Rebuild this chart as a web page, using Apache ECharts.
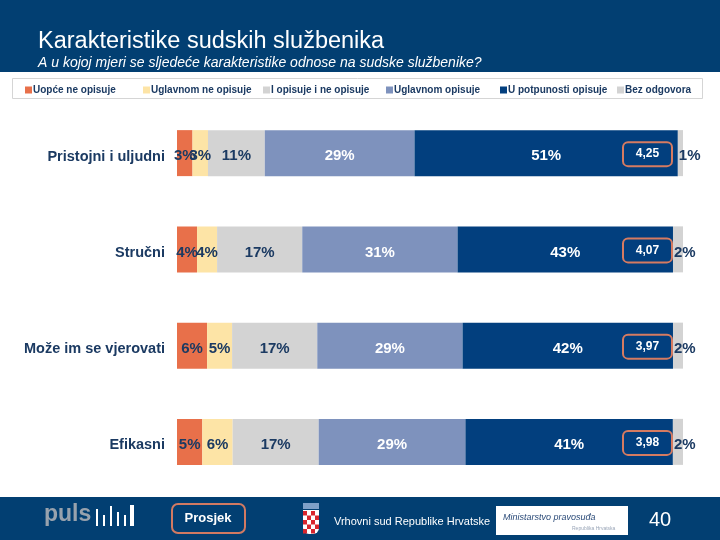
<!DOCTYPE html>
<html>
<head>
<meta charset="utf-8">
<script src="https://cdn.jsdelivr.net/npm/echarts@6/dist/echarts.min.js"></script>
<style>html,body{margin:0;padding:0;background:#fff}#c{width:720px;height:540px}</style>
</head>
<body>
<div id="c"></div>
<script>
var categories = ['Pristojni i uljudni', 'Stručni', 'Može im se vjerovati', 'Efikasni'];
var seriesNames = ['Uopće ne opisuje', 'Uglavnom ne opisuje', 'I opisuje i ne opisuje', 'Uglavnom opisuje', 'U potpunosti opisuje', 'Bez odgovora'];
var uopceNe = [3, 4, 6, 5];
var uglavnomNe = [3, 4, 5, 6];
var iOpisujeINe = [11, 17, 17, 17];
var uglavnomDa = [29, 31, 29, 29];
var uPotpunosti = [51, 43, 42, 41];
var bezOdgovora = [1, 2, 2, 2];
var averages = [4.25, 4.07, 3.97, 3.98];

var colors = ['#e8704a', '#fde4a6', '#d3d3d3', '#7e92bd', '#023f7e', '#d3d3d3'];
var HEADER = '#023f72';
var DARK = '#1b3a62';
var FONT = '"Liberation Sans", Arial, sans-serif';

var raw = [uopceNe, uglavnomNe, iOpisujeINe, uglavnomDa, uPotpunosti, bezOdgovora];
var totals = categories.map(function (c, i) {
  return raw.reduce(function (s, arr) { return s + arr[i]; }, 0);
});

var series = raw.map(function (arr, k) {
  var isLast = k === 5;
  var white = (k === 3 || k === 4);
  return {
    name: seriesNames[k],
    type: 'bar',
    stack: 'all',
    barWidth: 46,
    itemStyle: { color: colors[k] },
    data: arr.map(function (v, i) { return { value: v / totals[i] * 100, raw: v }; }),
    label: {
      show: true,
      position: isLast ? 'insideLeft' : 'inside',
      distance: 1,
      offset: [0, 3],
      fontFamily: FONT,
      fontWeight: 'bold',
      fontSize: 15,
      color: white ? '#ffffff' : DARK,
      formatter: function (p) { return p.data.raw + '%'; }
    },
    silent: true
  };
});

series.push({
  name: 'Prosjek',
  type: 'bar',
  barWidth: 46,
  barGap: '-100%',
  z: 10,
  silent: true,
  itemStyle: { color: 'rgba(0,0,0,0)' },
  data: averages.map(function (a) { return { value: 100, avg: a }; }),
  label: {
    show: true,
    position: 'insideRight',
    distance: 11,
    offset: [0, 1],
    formatter: function (p) { return '{b|' + p.data.avg.toFixed(2).replace('.', ',') + '}'; },
    rich: {
      b: {
        color: '#ffffff',
        fontFamily: FONT,
        fontWeight: 'bold',
        fontSize: 12,
        borderColor: '#d67b61',
        borderWidth: 2,
        borderRadius: 5,
        width: 49,
        height: 24,
        align: 'center',
        verticalAlign: 'middle',
        lineHeight: 24
      }
    }
  }
});

var chart = echarts.init(document.getElementById('c'), null, { renderer: 'canvas' });

var g = [
  { type: 'rect', shape: { x: 0, y: 0, width: 720, height: 72 }, style: { fill: HEADER }, z: -1 },
  { type: 'text', left: 38, top: 30, style: { text: 'Karakteristike sudskih službenika', fill: '#ffffff', font: '23.5px ' + FONT } },
  { type: 'text', left: 38, top: 56, style: { text: 'A u kojoj mjeri se sljedeće karakteristike odnose na sudske službenike?', fill: '#ffffff', font: 'italic 14px ' + FONT } },
  { type: 'rect', shape: { x: 12.5, y: 78.5, width: 690, height: 20 }, style: { fill: '#ffffff', stroke: '#d5d5d5', lineWidth: 1 }, z: -1 },
  { type: 'rect', shape: { x: 0, y: 497, width: 720, height: 43 }, style: { fill: HEADER } },
  { type: 'text', left: 44, top: 503, style: { text: 'puls', fill: '#98a2ad', font: 'bold 23px ' + FONT } },
  { type: 'rect', shape: { x: 96, y: 509, width: 2, height: 17 }, style: { fill: '#ffffff' } },
  { type: 'rect', shape: { x: 103, y: 515, width: 2, height: 11 }, style: { fill: '#ffffff' } },
  { type: 'rect', shape: { x: 110, y: 506, width: 2, height: 20 }, style: { fill: '#ffffff' } },
  { type: 'rect', shape: { x: 117, y: 512, width: 2, height: 14 }, style: { fill: '#ffffff' } },
  { type: 'rect', shape: { x: 124, y: 515, width: 2, height: 11 }, style: { fill: '#ffffff' } },
  { type: 'rect', shape: { x: 130, y: 505, width: 4, height: 21 }, style: { fill: '#ffffff' } },
  { type: 'rect', shape: { x: 172, y: 504, width: 73, height: 29, r: 6 }, style: { fill: HEADER, stroke: '#d27a62', lineWidth: 2 } },
  { type: 'text', x: 208, y: 518, style: { text: 'Prosjek', fill: '#ffffff', font: 'bold 13px ' + FONT, textAlign: 'center', textVerticalAlign: 'middle' } },
  { type: 'rect', shape: { x: 303, y: 510, width: 16, height: 24, r: [0, 0, 6, 6] }, style: { fill: '#ffffff' } },
  { type: 'rect', shape: { x: 303, y: 503, width: 16, height: 6 }, style: { fill: '#7fa0c8' } }
];
for (var r = 0; r < 5; r++) {
  for (var c = 0; c < 4; c++) {
    if ((r + c) % 2 === 0) {
      g.push({ type: 'rect', shape: { x: 303 + c * 4, y: 511 + r * 4.5, width: 4, height: 4.5 }, style: { fill: '#d8262e' } });
    }
  }
}
g = g.concat([
  { type: 'text', left: 334, top: 516, style: { text: 'Vrhovni sud Republike Hrvatske', fill: '#ffffff', font: '11px ' + FONT } },
  { type: 'rect', shape: { x: 496, y: 506, width: 132, height: 29 }, style: { fill: '#ffffff' } },
  { type: 'text', left: 503, top: 513, style: { text: 'Ministarstvo pravosuđa', fill: '#2a4a78', font: 'italic 9px ' + FONT } },
  { type: 'text', left: 572, top: 526, style: { text: 'Republika Hrvatska', fill: '#9aa6b8', font: '5px ' + FONT } },
  { type: 'text', x: 660, y: 520, style: { text: '40', fill: '#ffffff', font: '20px ' + FONT, textAlign: 'center', textVerticalAlign: 'middle' } }
]);

var legendLefts = [25, 143, 263, 386, 500, 617];
var legends = seriesNames.map(function (n, i) {
  return {
    data: [n],
    left: legendLefts[i],
    top: 85,
    icon: 'rect',
    itemWidth: 7,
    itemHeight: 7,
    padding: 0,
    selectedMode: false,
    textStyle: { color: DARK, fontWeight: 'bold', fontSize: 10, fontFamily: FONT, padding: [0, 0, 0, -4] }
  };
});

chart.setOption({
  animation: false,
  textStyle: { fontFamily: FONT },
  legend: legends,
  grid: { left: 177, right: 37, top: 105, bottom: 50, containLabel: false },
  xAxis: { type: 'value', min: 0, max: 100, show: false },
  yAxis: {
    type: 'category',
    data: categories,
    inverse: true,
    axisLine: { show: false },
    axisTick: { show: false },
    splitLine: { show: false },
    axisLabel: {
      margin: 12,
      formatter: function (v) { return '{a|' + v + '}'; },
      rich: { a: { color: DARK, fontWeight: 'bold', fontSize: 14.5, fontFamily: FONT, padding: [7, 0, 0, 0] } }
    }
  },
  graphic: g,
  series: series
});
</script>
</body>
</html>
